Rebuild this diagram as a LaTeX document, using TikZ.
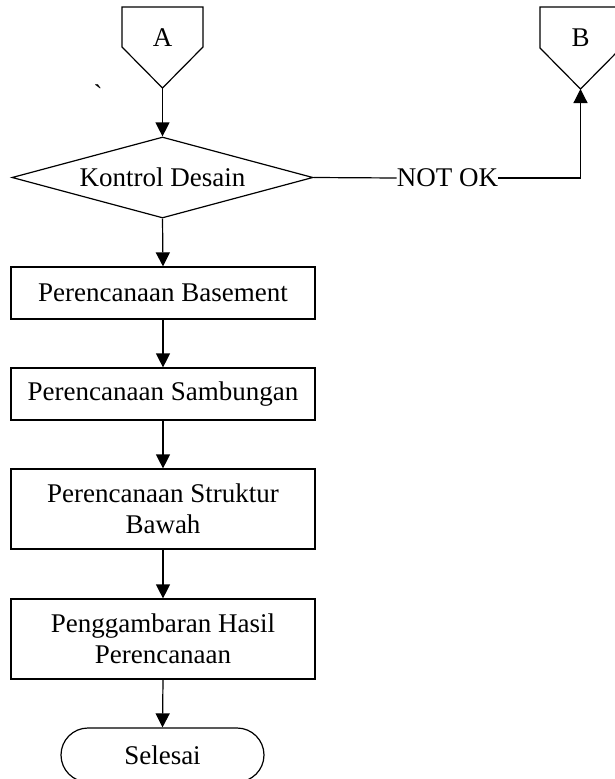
\documentclass[tikz,border=0pt]{standalone}
\usepackage{fontspec}
\setmainfont{Liberation Serif}
\usetikzlibrary{arrows.meta,shapes.geometric}
\begin{document}
\begin{tikzpicture}[x=1pt,y=-1pt,
  every node/.style={font=\fontsize{27}{31}\selectfont},
  line/.style={line width=1.2pt, line join=miter},
  arr/.style={line, -{Triangle[length=14pt,width=14pt]}},
  box/.style={draw, line width=1.2pt, rectangle, minimum width=304pt, inner sep=0pt, align=center},
  dec/.style={draw, line width=1.2pt, diamond, aspect=3.7, minimum width=301pt, minimum height=81pt, inner sep=0pt},
  term/.style={draw, line width=1.2pt, rectangle, rounded corners=27pt, minimum width=203pt, minimum height=54pt, inner sep=0pt}
]
\useasboundingbox (0,0) rectangle (615,779);
% off-page connector A
\draw[line] (122,7) -- (203,7) -- (203,47) -- (162.5,88) -- (122,47) -- cycle;
\coordinate (Ap) at (162.5,88);
\node (Alab) at (162.5,38) {A};
% off-page connector B
\draw[line] (540,7) -- (621,7) -- (621,48) -- (580.5,89) -- (540,48) -- cycle;
\coordinate (Bp) at (580.5,89);
\node (Blab) at (580.5,38) {B};
% stray mark
\node (tick) at (98,94) {\textasciigrave};
% main flow
\node[dec] (kd) at (162.5,177.5) {Kontrol Desain};
\node[box, minimum height=52pt] (pb) at (163,293) {Perencanaan Basement};
\node[box, minimum height=52pt] (ps) at (163,394) {Perencanaan Sambungan};
\node[box, minimum height=80pt] (pst) at (163,509) {Perencanaan Struktur\\Bawah};
\node[box, minimum height=80pt] (pg) at (163,639) {Penggambaran Hasil\\Perencanaan};
\node[term] (sel) at (162.5,755) {Selesai};
\node[inner sep=0pt] (nok) at (447.5,178) {NOT OK};
% connectors
\draw[arr] (Ap) -- (kd.north);
\draw[arr] (kd.south) -- (pb.north);
\draw[arr] (pb.south) -- (ps.north);
\draw[arr] (ps.south) -- (pst.north);
\draw[arr] (pst.south) -- (pg.north);
\draw[arr] (pg.south) -- (sel.north);
\draw[line] (kd.east) -- (nok.west);
\draw[arr] (nok.east) -| (Bp);
\end{tikzpicture}
\end{document}
